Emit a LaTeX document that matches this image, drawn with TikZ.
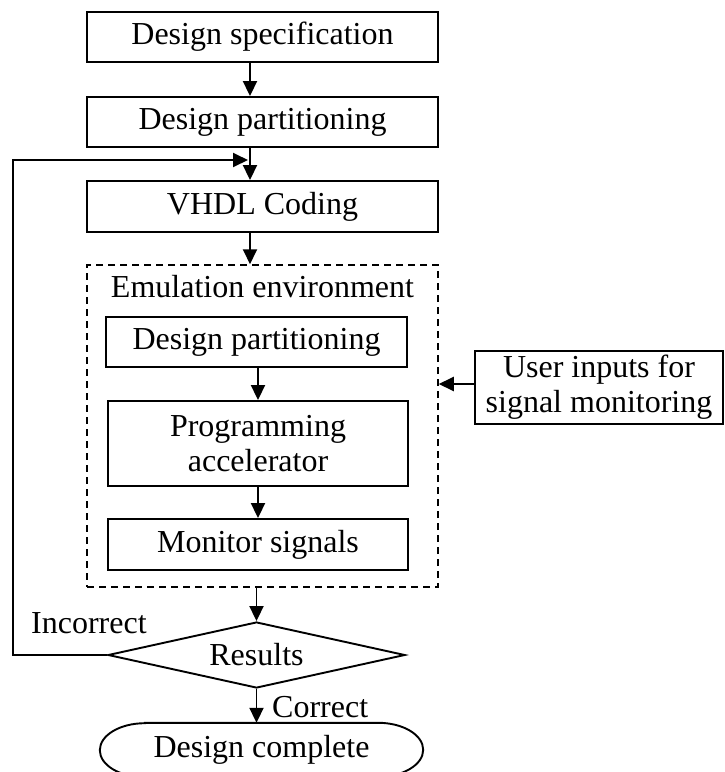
\documentclass[tikz,border=0pt]{standalone}
\usepackage{fontspec}
\setmainfont{Liberation Serif}
\usetikzlibrary{arrows.meta,shapes.geometric}
\begin{document}
\begin{tikzpicture}[x=1pt,y=-1pt,
  font=\fontsize{32}{35}\selectfont,
  box/.style={draw,line width=1.9pt,inner sep=0pt,align=center},
  arr/.style={line width=1.9pt,-{Triangle[length=15pt,width=14pt]}},
  lbl/.style={inner sep=0pt,anchor=base west}]
\useasboundingbox (0,0) rectangle (724,772);
\node[box,minimum width=351pt,minimum height=50pt] (b1) at (262.5,37) {Design specification};
\node[box,minimum width=351pt,minimum height=50pt] (b2) at (262.5,122) {Design partitioning};
\node[box,minimum width=351pt,minimum height=51pt] (b3) at (262.5,206.5) {VHDL Coding};
\node[draw,line width=1.5pt,dash pattern=on 7pt off 5pt,minimum width=351pt,minimum height=322pt,inner sep=0pt] (emu) at (262.5,426) {};
\node[inner sep=0pt,anchor=base] (emut) at (262.5,297) {Emulation environment};
\node[box,minimum width=301pt,minimum height=50pt] (i1) at (256.5,342) {Design partitioning};
\node[box,minimum width=300pt,minimum height=85pt] (i2) at (258,443.5) {Programming\\accelerator};
\node[box,minimum width=300pt,minimum height=51pt] (i3) at (258,544.5) {Monitor signals};
\node[box,minimum width=248pt,minimum height=73pt] (user) at (599,387.5) {User inputs for\\signal monitoring};
\node[draw,diamond,line width=1.9pt,inner sep=0pt,shape aspect=4.5,minimum width=297pt,minimum height=66pt] (res) at (256.5,655) {Results};
\node[inner sep=0pt,minimum width=323pt,minimum height=54pt] (done) at (261.5,750) {Design complete};
\draw[line width=1.9pt] ([xshift=45pt]done.north west) -- ([xshift=-45pt]done.north east)
  arc[start angle=90,end angle=-90,x radius=45pt,y radius=27pt]
  -- ([xshift=45pt]done.south west)
  arc[start angle=270,end angle=90,x radius=45pt,y radius=27pt] -- cycle;
\node[lbl] (inc) at (31,633) {Incorrect};
\node[lbl] (cor) at (272,717) {Correct};
\coordinate (col) at (250,0);
\coordinate (fbcorner) at (13,160);
\coordinate (fbend) at (248,160);
\draw[arr] (col |- b1.south) -- (col |- b2.north);
\draw[arr] (col |- b2.south) -- (col |- b3.north);
\draw[arr] (col |- b3.south) -- (col |- emu.north);
\draw[arr] (i2.north |- i1.south) -- (i2.north);
\draw[arr] (i2.south) -- (i3.north);
\draw[arr] ([yshift=3.5pt]user.west) -- ([yshift=3.5pt]user.west -| emu.east);
\draw[arr] (emu.south -| res.north) -- (res.north);
\draw[arr] (res.south) -- (res.south |- done.north);
\draw[arr] (res.west) -| (fbcorner) -- (fbend);
\end{tikzpicture}
\end{document}
